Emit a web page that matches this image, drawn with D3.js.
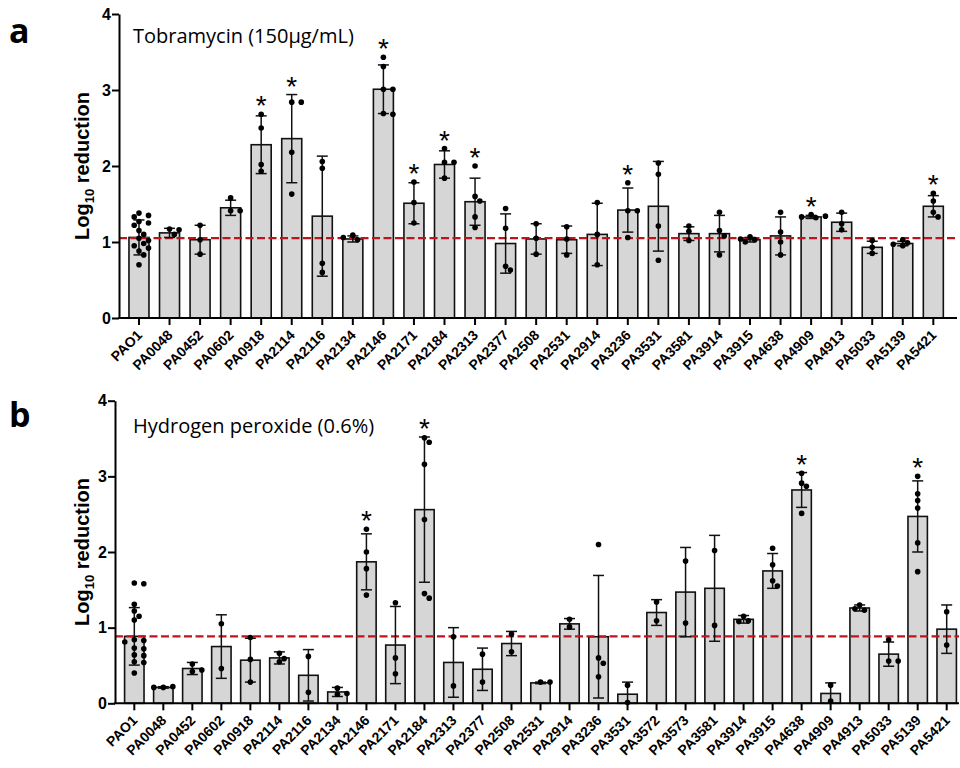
<!DOCTYPE html>
<html>
<head>
<meta charset="utf-8">
<script src="https://cdn.jsdelivr.net/npm/d3@7"></script>
<style>
  body { margin: 0; background: #fff; }
  svg { display: block; }
</style>
</head>
<body>
<svg width="960" height="768"></svg>
<script>
// panel a : tobramycin
const strainsA = ["PAO1","PA0048","PA0452","PA0602","PA0918","PA2114","PA2116","PA2134","PA2146","PA2171","PA2184","PA2313","PA2377","PA2508","PA2531","PA2914","PA3236","PA3531","PA3581","PA3914","PA3915","PA4638","PA4909","PA4913","PA5033","PA5139","PA5421"];
const meanA = [1.06,1.12,1.03,1.45,2.28,2.36,1.34,1.04,3.01,1.51,2.02,1.53,0.98,1.04,1.03,1.10,1.42,1.47,1.11,1.11,1.03,1.08,1.33,1.26,0.93,0.98,1.47];
const sdA   = [0.23,0.06,0.19,0.10,0.38,0.58,0.79,0.04,0.32,0.27,0.18,0.31,0.39,0.20,0.18,0.41,0.29,0.59,0.09,0.24,0.03,0.25,0.02,0.12,0.08,0.03,0.14];
const pointsA = [
  [1.38,1.35,1.33,1.27,1.25,1.22,1.15,1.10,1.05,1.02,0.98,0.95,0.92,0.88,0.83,0.70],
  [1.17,1.16,1.10],
  [1.22,1.03,0.84],
  [1.58,1.41,1.41],
  [2.68,2.50,2.02,1.93],
  [2.84,2.84,2.18,1.63],
  [2.06,1.97,0.72,0.60],
  [1.09,1.03,1.06],
  [3.43,3.31,3.01,3.01,2.69,2.68],
  [1.79,1.52,1.25],
  [2.23,2.05,2.05,1.84],
  [2.00,1.60,1.54,1.33,1.19],
  [1.44,1.18,0.68,0.63],
  [1.24,1.05,0.84],
  [1.20,1.04,0.83],
  [1.52,1.10,0.70],
  [1.78,1.41,1.41,1.06],
  [2.04,1.89,1.21,0.76],
  [1.21,1.14,1.02],
  [1.39,1.15,1.08,0.83],
  [1.07,1.03,1.00,1.04],
  [1.39,1.13,1.00,0.83],
  [1.36,1.32,1.33,1.34],
  [1.39,1.24,1.16],
  [1.02,0.93,0.85],
  [1.03,0.99,0.95,0.97],
  [1.64,1.54,1.39,1.33]
];
const starA = ["PA0918","PA2114","PA2146","PA2171","PA2184","PA2313","PA3236","PA4909","PA5421"];
const controlA = 1.05;

// panel b : hydrogen peroxide
const strainsB = ["PAO1","PA0048","PA0452","PA0602","PA0918","PA2114","PA2116","PA2134","PA2146","PA2171","PA2184","PA2313","PA2377","PA2508","PA2531","PA2914","PA3236","PA3531","PA3572","PA3573","PA3581","PA3914","PA3915","PA4638","PA4909","PA4913","PA5033","PA5139","PA5421"];
const meanB = [0.885,0.21,0.46,0.75,0.57,0.60,0.37,0.15,1.87,0.77,2.56,0.54,0.45,0.79,0.27,1.05,0.88,0.12,1.20,1.47,1.52,1.11,1.75,2.82,0.13,1.26,0.65,2.47,0.98];
const sdB   = [0.38,0.01,0.08,0.42,0.29,0.08,0.34,0.06,0.37,0.51,0.96,0.46,0.28,0.16,0.01,0.07,0.81,0.16,0.17,0.59,0.70,0.05,0.23,0.23,0.14,0.04,0.16,0.47,0.32];
const pointsB = [
  [1.59,1.58,1.31,1.22,1.15,1.10,0.84,0.83,0.81,0.73,0.72,0.64,0.63,0.55,0.54,0.40],
  [0.21,0.22,0.21],
  [0.52,0.42,0.44],
  [1.05,0.46],
  [0.87,0.58,0.28],
  [0.66,0.59,0.55],
  [0.62,0.145],
  [0.20,0.12,0.13],
  [2.30,2.00,1.78,1.43],
  [1.33,0.60,0.39],
  [3.51,3.45,3.16,2.43,1.45,1.39],
  [0.88,0.23],
  [0.65,0.28],
  [0.915,0.68],
  [0.28,0.28],
  [1.11,1.01],
  [2.10,0.60,0.53,0.35],
  [0.24,0.01],
  [1.34,1.09],
  [1.88,1.06],
  [2.02,1.03],
  [1.15,1.09,1.08],
  [2.05,1.83,1.62,1.55],
  [3.04,2.91,2.87,2.51],
  [0.24,0.03],
  [1.30,1.23,1.25],
  [0.84,0.56,0.56],
  [3.00,2.77,2.68,2.58,2.12,1.74],
  [1.21,0.77]
];
const starB = ["PA2146","PA2184","PA4638","PA5139"];
const controlB = 0.885;

const yTicks = [0,1,2,3,4];

const svg = d3.select("svg");
svg.append("rect").attr("width",960).attr("height",768).attr("fill","#fff");

const panels = [
  {letter:"a", title:"Tobramycin (150\u00b5g/mL)", strains:strainsA, mean:meanA, sd:sdA, pts:pointsA, stars:starA, control:controlA,
   y0:318, y1:14, axX:119, axEnd:957, band:[123.7,948.6], pad:0.345, letterY:43, titleY:43},
  {letter:"b", title:"Hydrogen peroxide (0.6%)", strains:strainsB, mean:meanB, sd:sdB, pts:pointsB, stars:starB, control:controlB,
   y0:703.3, y1:400.7, axX:115, axEnd:959, band:[119.8,961.2], pad:0.33, letterY:427, titleY:433}
];

const arial = "'Liberation Sans', Arial, sans-serif";

// spread dots sideways so they don't overlap
function dodge(vals, y, r) {
  const placed = [];
  return vals.map(v => {
    const py = y(v);
    let off = 0;
    for (let k = 0; k < 20; k++) {
      const c = k === 0 ? 0 : (k % 2 ? 1 : -1) * Math.ceil(k / 2) * r * 1.7;
      if (placed.every(p => Math.hypot(p.x - c, p.y - py) >= r * 1.9)) { off = c; break; }
    }
    placed.push({x: off, y: py});
    return {v: v, off: off};
  });
}

panels.forEach(p => {
  const g = svg.append("g");
  const y = d3.scaleLinear().domain([0,4]).range([p.y0, p.y1]);
  const x = d3.scaleBand().domain(p.strains).range(p.band)
    .paddingInner(p.pad).paddingOuter(p.pad/2);
  const cx = s => x(s) + x.bandwidth()/2;
  const rows = p.strains.map((s,i) => ({s:s, m:p.mean[i], sd:p.sd[i], pts:p.pts[i]}));

  // bars
  g.selectAll(".bar").data(rows).enter().append("rect")
    .attr("x", d => x(d.s)).attr("width", x.bandwidth())
    .attr("y", d => y(d.m)).attr("height", d => y(0) - y(d.m))
    .attr("fill", "#d6d6d6").attr("stroke", "#111").attr("stroke-width", 1.6);

  // control line
  g.append("line")
    .attr("x1", p.axX).attr("x2", p.axEnd)
    .attr("y1", y(p.control)).attr("y2", y(p.control))
    .attr("stroke", "#c0141c").attr("stroke-width", 2.2).attr("stroke-dasharray", "8,3.5");

  // error bars
  const eb = g.selectAll(".eb").data(rows).enter().append("g")
    .attr("transform", d => `translate(${cx(d.s)},0)`)
    .attr("stroke", "#111").attr("stroke-width", 1.5);
  eb.append("line").attr("y1", d => y(d.m + d.sd)).attr("y2", d => y(Math.max(0, d.m - d.sd)));
  eb.append("line").attr("x1", -5.5).attr("x2", 5.5).attr("y1", d => y(d.m + d.sd)).attr("y2", d => y(d.m + d.sd));
  eb.filter(d => d.m - d.sd > 0.02).append("line").attr("x1", -5.5).attr("x2", 5.5)
    .attr("y1", d => y(d.m - d.sd)).attr("y2", d => y(d.m - d.sd));

  // dots
  eb.each(function(d) {
    d3.select(this).selectAll("circle").data(dodge(d.pts, y, 2.8)).enter().append("circle")
      .attr("cx", q => q.off).attr("cy", q => y(q.v)).attr("r", 2.8)
      .attr("fill", "#000").attr("stroke", "none");
  });

  // significance stars
  g.selectAll(".star").data(rows.filter(d => p.stars.includes(d.s))).enter().append("text")
    .attr("x", d => cx(d.s))
    .attr("y", d => y(Math.max(d.m + d.sd, d3.max(d.pts))) + 1)
    .attr("text-anchor", "middle")
    .attr("font-family", arial)
    .attr("font-size", 28).text("*");

  // y axis
  const ya = g.append("g").attr("transform", `translate(${p.axX},0)`)
    .call(d3.axisLeft(y).tickValues(yTicks).tickFormat(d3.format("d")).tickSize(7).tickSizeOuter(0));
  ya.select(".domain").attr("stroke-width", 2);
  ya.selectAll(".tick line").attr("stroke-width", 2);
  ya.selectAll(".tick text").attr("font-family", arial)
    .attr("font-weight", "bold").attr("font-size", 16).attr("fill", "#000").attr("x", -8);

  // x axis (ticks only, labels drawn below)
  const xa = g.append("g").attr("transform", `translate(0,${p.y0})`)
    .call(d3.axisBottom(x).tickSize(7).tickSizeOuter(0));
  xa.select(".domain").remove();
  xa.selectAll(".tick text").remove();
  xa.selectAll(".tick line").attr("stroke-width", 2);
  g.append("line").attr("x1", p.axX - 1).attr("x2", p.axEnd)
    .attr("y1", p.y0).attr("y2", p.y0).attr("stroke", "#000").attr("stroke-width", 2);

  // slanted strain labels
  g.selectAll(".xl").data(p.strains).enter().append("text")
    .attr("transform", d => `translate(${cx(d) + 4},${p.y0 + 18}) rotate(-45)`)
    .attr("text-anchor", "end")
    .attr("font-family", arial).attr("font-weight", "bold").attr("font-size", 14)
    .text(d => d);

  // y label with subscript
  const yl = g.append("text")
    .attr("transform", `translate(89,${(p.y0 + p.y1)/2}) rotate(-90)`)
    .attr("text-anchor", "middle")
    .attr("font-family", arial)
    .attr("font-weight", "bold").attr("font-size", 20);
  yl.append("tspan").text("Log");
  yl.append("tspan").attr("font-size", 13).attr("dy", 5).text("10");
  yl.append("tspan").attr("dy", -5).text(" reduction");

  // titles
  g.append("text").attr("x", 133).attr("y", p.titleY)
    .attr("font-family", "'Open Sans', sans-serif").attr("font-size", 20).text(p.title);
  g.append("text").attr("x", 9).attr("y", p.letterY)
    .attr("font-family", "'Open Sans', sans-serif").attr("font-weight", "bold")
    .attr("font-size", 34).text(p.letter);
});
</script>
</body>
</html>
